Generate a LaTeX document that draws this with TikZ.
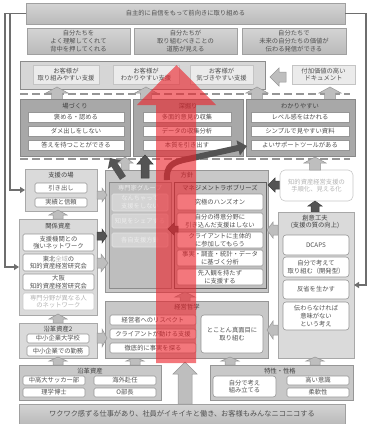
\documentclass[tikz,border=0pt]{standalone}
\usepackage{fontspec}
\setmainfont{Noto Sans CJK JP}
\usetikzlibrary{arrows.meta}
\definecolor{tx}{HTML}{505050}
\definecolor{ttl}{HTML}{404040}
\definecolor{faint}{HTML}{ECECEC}
\definecolor{faint2}{HTML}{B4B4B4}
\definecolor{redarr}{RGB}{236,36,44}
\newcommand\bx[7]{\node[#6, inner sep=0pt, outer sep=0pt, minimum width={#4-#2}, minimum height={#5-#3}] (#1) at ({(#2+#4)/2},{(#3+#5)/2}) {#7};}
% vertical block arrow: cx, ytail, ybase, ytip, head half width, shaft half width, style
\newcommand\barV[7]{\filldraw[#7] ({#1-#6},#2) -- ({#1-#6},#3) -- ({#1-#5},#3) -- (#1,#4) -- ({#1+#5},#3) -- ({#1+#6},#3) -- ({#1+#6},#2) -- cycle;}
% horizontal block arrow: cy, xtail, xbase, xtip, head half height, shaft half height, style
\newcommand\barH[7]{\filldraw[#7] (#2,{#1-#6}) -- (#3,{#1-#6}) -- (#3,{#1-#5}) -- (#4,#1) -- (#3,{#1+#5}) -- (#3,{#1+#6}) -- (#2,{#1+#6}) -- cycle;}
\tikzset{
  every node/.style={font=\fontsize{6.3}{7.7}\selectfont, text=tx, align=center},
  banner/.style={draw={rgb,255:red,160;green,160;blue,160}, line width=0.6, top color={rgb,255:red,212;green,212;blue,212}, bottom color={rgb,255:red,186;green,186;blue,186}},
  custbox/.style={draw={rgb,255:red,140;green,140;blue,140}, fill={rgb,255:red,214;green,214;blue,214}, line width=0.8},
  custin/.style={draw={rgb,255:red,196;green,196;blue,196}, fill={rgb,255:red,235;green,235;blue,235}, line width=0.6},
  darkbox/.style={draw={rgb,255:red,136;green,136;blue,136}, fill={rgb,255:red,168;green,168;blue,168}, line width=0.8},
  itembox/.style={draw={rgb,255:red,150;green,150;blue,150}, fill=white, line width=0.6},
  ritem/.style={itembox, rounded corners=1.5},
  sitem/.style={itembox, rounded corners=3},
  lightbox/.style={draw={rgb,255:red,168;green,168;blue,168}, fill={rgb,255:red,218;green,218;blue,218}, line width=0.8},
  midbox/.style={draw={rgb,255:red,150;green,150;blue,150}, fill={rgb,255:red,200;green,200;blue,200}, line width=0.8},
  expert/.style={draw={rgb,255:red,140;green,140;blue,140}, fill={rgb,255:red,190;green,190;blue,190}, line width=0.8},
  expitem/.style={draw={rgb,255:red,228;green,228;blue,228}, fill={rgb,255:red,212;green,212;blue,212}, rounded corners=1.5, line width=0.6, text=faint},
  mlbox/.style={draw={rgb,255:red,96;green,96;blue,96}, fill={rgb,255:red,192;green,192;blue,192}, line width=0.8},
  ttlnode/.style={text=ttl},
  arrL/.style={fill={rgb,255:red,190;green,190;blue,190}, draw={rgb,255:red,150;green,150;blue,150}, line width=0.5},
  arrD/.style={fill={rgb,255:red,84;green,84;blue,84}, draw={rgb,255:red,62;green,62;blue,62}, line width=0.5},
  dline/.style={draw={rgb,255:red,150;green,150;blue,150}, line width=1.6, dash pattern=on 8pt off 4pt},
  fb/.style={draw={rgb,255:red,110;green,110;blue,110}, line width=1.3, -{Triangle[length=5pt,width=6pt]}},
}
\begin{document}
\begin{tikzpicture}[x=1pt,y=-1pt]
\useasboundingbox (0,0) rectangle (367,424);
% ---- top
\bx{topban}{26}{3}{345}{24}{banner}{自主的に自信をもって前向きに取り組める}
\bx{t1}{27}{28}{130}{54}{banner}{自分たちを\\よく理解してくれて\\背中を押してくれる}
\bx{t2}{134}{28}{237}{54}{banner}{自分たちが\\取り組むべきことの\\道筋が見える}
\bx{t3}{242}{28}{346}{54}{banner}{自分たちで\\未来の自分たちの価値が\\伝わる発信ができる}
% ---- customer support
\bx{cust}{20}{61}{265}{89}{custbox}{}
\bx{c1}{33}{65}{99}{84}{custin}{お客様が\\取り組みやすい支援}
\bx{c2}{113}{65}{179}{84}{custin}{お客様が\\わかりやすい支援}
\bx{c3}{190}{65}{253}{84}{custin}{お客様が\\気づきやすい支援}
\bx{fuka}{292}{65}{355}{84}{custin}{付加価値の高い\\ドキュメント}
\barH{77}{286}{279}{270}{9}{5}{arrL}
\coordinate (d1a) at (20,94); \coordinate (d1b) at (350,94);
\draw[dline] (d1a) -- (d1b);
\barV{57}{100}{93}{87}{11}{5.5}{arrL}
\barV{146}{100}{93}{87}{11}{5.5}{arrL}
\barV{257}{100}{93}{87}{11}{5.5}{arrL}
\barV{330}{100}{93}{87}{11}{5.5}{arrL}
% ---- row 2
\bx{ba}{20}{99}{130}{156}{darkbox}{}
\node[ttlnode] (bat) at (75,106) {場づくり};
\bx{ba1}{28}{112}{124}{122}{itembox}{褒める・認める}
\bx{ba2}{28}{126}{124}{136}{itembox}{ダメ出しをしない}
\bx{ba3}{28}{140}{124}{150}{itembox}{答えを待つことができる}
\bx{fk}{133}{99}{243}{156}{darkbox}{}
\node[ttlnode] (fkt) at (188,106) {深掘り};
\bx{fk1}{143}{112}{231}{122}{itembox}{多面的意見の収集}
\bx{fk2}{143}{126}{231}{136}{itembox}{データの収集分析}
\bx{fk3}{143}{140}{231}{150}{itembox}{本質を引き出す}
\bx{wk}{246}{99}{355}{156}{darkbox}{}
\node[ttlnode] (wkt) at (300,106) {わかりやすい};
\bx{wk1}{251}{112}{349}{122}{itembox}{レベル感をはかれる}
\bx{wk2}{251}{126}{349}{136}{itembox}{シンプルで見やすい資料}
\bx{wk3}{251}{140}{349}{150}{itembox}{よいサポートツールがある}
\coordinate (d2a) at (20,159); \coordinate (d2b) at (350,159);
\draw[dline] (d2a) -- (d2b);
% ---- left column
\bx{shien}{25}{169}{97}{211}{lightbox}{}
\node[ttlnode] (shient) at (61,175) {支援の場};
\bx{sh1}{35}{183}{87}{193}{ritem}{引き出し}
\bx{sh2}{35}{198}{87}{207}{ritem}{実績と信頼}
\barV{58}{219}{215}{210}{9}{5}{arrL}
\bx{kankei}{19}{219}{97}{315}{lightbox}{}
\node[ttlnode] (kankeit) at (58,226) {関係資産};
\bx{kk1}{23}{234}{94}{251}{ritem}{支援機関との\\強いネットワーク}
\bx{kk2}{23}{254}{94}{271}{ritem}{東北{\color{faint2}全域}の\\知的資産経営研究会}
\bx{kk3}{23}{274}{94}{290}{ritem}{大阪\\知的資産経営研究会}
\bx{kk4}{23}{293}{94}{310}{ritem, draw={rgb,255:red,200;green,200;blue,200}, text=faint2}{専門分野が異なる人\\のネットワーク}
\barV{58}{323}{319}{314}{9}{5}{arrL}
\bx{enk2}{19}{323}{97}{358}{lightbox}{}
\node[ttlnode] (enk2t) at (58,329) {沿革資産2};
\bx{e21}{27}{334}{89}{343}{ritem}{中小企業大学校}
\bx{e22}{27}{346}{89}{356}{ritem}{中小企業での勤務}
\barV{58}{365}{361}{357}{9}{5}{arrL}
\barV{135}{365}{361}{357}{9}{5}{arrL}
\bx{enk}{19}{365}{161}{400}{midbox}{}
\node[ttlnode] (enkt) at (90,371) {沿革資産};
\bx{en1}{23}{376}{85}{385}{ritem}{中高大サッカー部}
\bx{en2}{94}{376}{156}{385}{ritem}{海外赴任}
\bx{en3}{23}{388}{85}{397}{ritem}{理学博士}
\bx{en4}{94}{388}{156}{397}{ritem}{O部長}
% ---- bottom
\bx{bottom}{19}{404}{345}{424}{banner}{\fontsize{7.2}{8}\selectfont ワクワク感ずる仕事があり、社員がイキイキと働き、お客様もみんなニコニコする}
\barV{185}{404}{374}{362}{12}{7}{arrL}
% ---- center
\bx{hoshin}{105}{170}{268}{292}{midbox}{}
\node[ttlnode] (hoshint) at (187,175) {方針};
\bx{senmon}{109}{182}{171}{288}{expert}{}
\node[text=faint] (senmont) at (140,188) {専門家グループ};
\bx{sm1}{112}{194}{168}{211}{expitem}{なんちゃって\\支援をしない}
\bx{sm2}{112}{214}{168}{228}{expitem}{知見をシェアする}
\bx{sm3}{112}{233}{168}{247}{expitem}{各自支援方針}
\bx{mlb}{174}{182}{266}{288}{mlbox}{}
\node[ttlnode] (mlbt) at (220,188) {マネジメントラボブリーズ};
\bx{ml1}{177}{194}{263}{210}{ritem}{究極のハンズオン}
\bx{ml2}{177}{213}{263}{229}{ritem}{自分の得意分野に\\引き込んだ支援はしない}
\bx{ml3}{177}{232}{263}{248}{ritem}{クライアントに主体的\\に参加してもらう}
\bx{ml4}{177}{250}{263}{266}{ritem}{事実・調査・統計・データ\\に基づく分析}
\bx{ml5}{177}{269}{263}{285}{ritem}{先入観を持たず\\に支援する}
\barH{229}{178}{174}{168}{6}{3}{arrD}
\barH{195}{97}{102}{107}{7}{4}{arrL}
\barH{236}{97}{102}{107}{7}{4}{arrD}
\barH{263}{97}{101}{108}{9}{5}{arrL}
\barH{185}{280}{275}{268}{7}{4}{arrD}
\barH{230}{278}{273}{267}{8}{5}{arrL}
\barV{185}{301}{297}{292}{10}{5}{arrL}
\bx{keiei}{105}{301}{268}{358}{midbox}{}
\node[ttlnode] (keieit) at (187,307) {経営哲学};
\bx{ke1}{110}{315}{196}{325}{ritem}{経営者へのリスペクト}
\bx{ke2}{110}{329}{196}{339}{ritem}{クライアントが動ける支援}
\bx{ke3}{110}{343}{196}{353}{ritem}{徹底的に事実を探る}
\bx{ke4}{201}{315}{263}{353}{sitem}{とことん真面目に\\取り組む}
\barH{338}{97}{102}{107}{9}{5}{arrL}
\barH{330}{278}{273}{267}{9}{5}{arrL}
% ---- right column
\bx{chiteki}{280}{170}{353}{201}{sitem, rounded corners=5, draw={rgb,255:red,200;green,200;blue,200}, text=faint2}{知的資産経営支援の\\手順化、見える化}
\barV{315}{170}{163}{157}{11}{5.5}{arrL}
\barV{315}{212}{206}{201}{7}{4}{arrD}
\bx{soui}{278}{212}{354}{358}{lightbox}{}
\node[ttlnode] (souit) at (315,222) {創意工夫\\(支援の質の向上)};
\bx{so1}{283}{235}{349}{255}{sitem}{DCAPS}
\bx{so2}{283}{257}{349}{277}{sitem}{自分で考えて\\取り組む（開発型）}
\bx{so3}{283}{280}{349}{299}{sitem}{反省を生かす}
\bx{so4}{283}{302}{349}{330}{sitem}{伝わらなければ\\意味がない\\という考え}
\barV{230}{365}{361}{357}{9}{5}{arrL}
\barV{315}{365}{361}{357}{9}{5}{arrL}
\bx{toku}{210}{365}{353}{400}{midbox}{}
\node[ttlnode] (tokut) at (280,371) {特性・性格};
\bx{tk1}{213}{376}{276}{397}{sitem}{自分で考え\\組み立てる}
\bx{tk2}{287}{376}{349}{385}{ritem}{高い意識}
\bx{tk3}{287}{388}{349}{397}{ritem}{柔軟性}
% ---- feedback lines
\coordinate (fo) at (5,13.5);
\coordinate (fi) at (10,13.5);
\coordinate (fr) at (366,13.5);
\draw[fb] (topban.west) -- (fo) |- (kankei.west);
\draw[fb] (fi) |- (shien.west);
\draw[fb] (topban.east) -- (fr) |- (soui.east);
% ---- arrows leaving 方針 upward
\barV{125}{170}{163}{157}{8}{4}{arrL}
\coordinate (ta) at (123,178); \coordinate (tb) at (110,158);
\draw[line width=7pt, draw={rgb,255:red,84;green,84;blue,84}, -{Triangle[length=8pt,width=15pt]}] (ta) -- (tb);
\barV{145}{178}{164}{155}{8}{4}{arrD}
\coordinate (ca) at (167,180); \coordinate (cb) at (247,146);
\draw[line width=6pt, draw={rgb,255:red,84;green,84;blue,84}, -{Triangle[length=9pt,width=15pt]}] (ca) .. controls (166,166) and (172,162) .. (188,159) -- (cb);
% ---- red arrow
\fill[redarr, opacity=0.62] (156,363) -- (156,105) -- (137,105) -- (176.5,65) -- (216,105) -- (196,105) -- (196,363) -- cycle;
\end{tikzpicture}
\end{document}
